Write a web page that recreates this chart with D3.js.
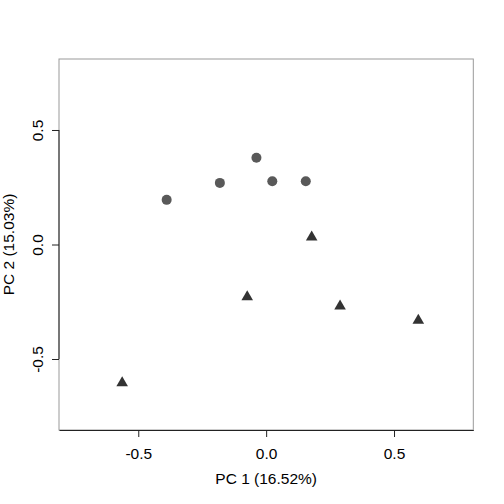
<!DOCTYPE html>
<html>
<head>
<meta charset="utf-8">
<script src="https://cdn.jsdelivr.net/npm/d3@7"></script>
<style>
  body { margin: 0; background: #fff; }
  text { font-family: "Liberation Sans", Arial, sans-serif; fill: #000; }
</style>
</head>
<body>
<div id="chart"></div>
<script>
const width = 504
const height = 504
const plot_left = 59
const plot_right = 473.3
const plot_top = 59
const plot_bottom = 430
const font_size = 15.5

// group 1 (circles)
const circle_x = [-0.389, -0.181, -0.038, 0.024, 0.155]
const circle_y = [0.195, 0.269, 0.379, 0.276, 0.276]
// group 2 (triangles)
const tri_x = [-0.563, -0.074, 0.178, 0.289, 0.595]
const tri_y = [-0.604, -0.229, 0.032, -0.269, -0.332]

const x_ticks = [-0.5, 0.0, 0.5]
const y_ticks = [-0.5, 0.0, 0.5]
const x_label = "PC 1 (16.52%)"
const y_label = "PC 2 (15.03%)"

const svg = d3.select("#chart")
    .append("svg")
    .attr("width", width)
    .attr("height", height)

const x = d3.scaleLinear().domain([-0.81, 0.81]).range([plot_left, plot_right])
const y = d3.scaleLinear().domain([-0.81, 0.81]).range([plot_bottom, plot_top])
const fmt = d => d.toFixed(1)

/* box */
svg.append("rect")
    .attr("x", plot_left)
    .attr("y", plot_top)
    .attr("width", plot_right - plot_left)
    .attr("height", plot_bottom - plot_top)
    .attr("fill", "none")
    .attr("stroke", "#999")
    .attr("stroke-width", 1)

/* x axis */
const xAxis = svg.append("g")
    .attr("transform", `translate(0,${plot_bottom})`)
    .call(d3.axisBottom(x).tickValues(x_ticks).tickFormat(fmt).tickSize(7).tickSizeOuter(0))
xAxis.select(".domain").attr("stroke", "#222")
xAxis.selectAll(".tick line").attr("stroke", "#222")
xAxis.selectAll(".tick text")
    .attr("y", 28.5)
    .attr("dy", null)
    .attr("font-size", font_size)
    .attr("font-family", "Liberation Sans, Arial, sans-serif")
    .attr("fill", "#000")

/* y axis */
const yAxis = svg.append("g")
    .attr("transform", `translate(${plot_left},0)`)
    .call(d3.axisLeft(y).tickValues(y_ticks).tickFormat(fmt).tickSize(7).tickSizeOuter(0))
yAxis.select(".domain").remove()
yAxis.append("line")
    .attr("x1", 0).attr("x2", 0)
    .attr("y1", y(d3.min(y_ticks))).attr("y2", y(d3.max(y_ticks)))
    .attr("stroke", "#222")
yAxis.selectAll(".tick line").attr("stroke", "#222")
yAxis.selectAll(".tick text")
    .attr("x", null).attr("dy", null)
    .attr("transform", "translate(-16,0) rotate(-90)")
    .attr("text-anchor", "middle")
    .attr("font-size", font_size)
    .attr("font-family", "Liberation Sans, Arial, sans-serif")
    .attr("fill", "#000")

/* axis titles */
svg.append("text")
    .attr("x", (plot_left + plot_right) / 2)
    .attr("y", 484)
    .attr("text-anchor", "middle")
    .attr("font-size", font_size)
    .text(x_label)
svg.append("text")
    .attr("transform", `translate(13.5,${(plot_top + plot_bottom) / 2}) rotate(-90)`)
    .attr("text-anchor", "middle")
    .attr("font-size", font_size)
    .text(y_label)

/* points */
svg.selectAll(".pt-circle")
    .data(circle_x)
    .enter()
    .append("circle")
    .attr("class", "pt-circle")
    .attr("cx", d => x(d))
    .attr("cy", (_, i) => y(circle_y[i]))
    .attr("r", 5)
    .attr("fill", "#595959")

svg.selectAll(".pt-tri")
    .data(tri_x)
    .enter()
    .append("path")
    .attr("class", "pt-tri")
    .attr("d", d3.symbol().type(d3.symbolTriangle).size(58))
    .attr("transform", (d, i) => `translate(${x(d)},${y(tri_y[i])})`)
    .attr("fill", "#333")
</script>
</body>
</html>
